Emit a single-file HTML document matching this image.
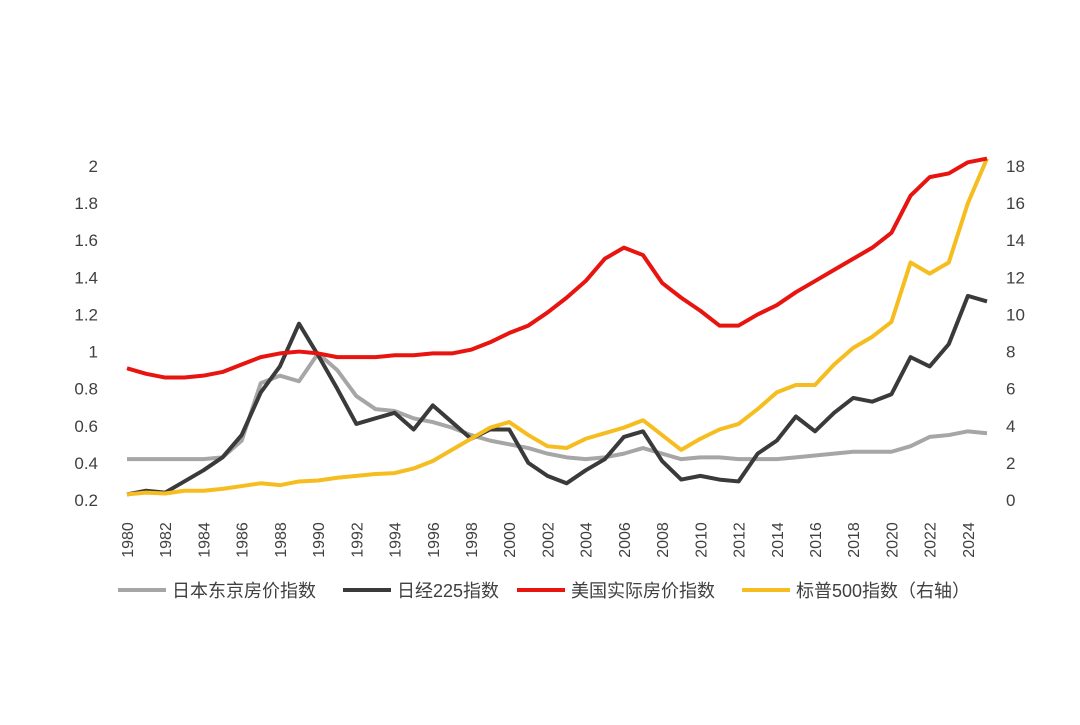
<!DOCTYPE html>
<html><head><meta charset="utf-8">
<style>
body{margin:0;background:#fff;}
svg text{font-family:"Liberation Sans","Noto Sans CJK SC",sans-serif;fill:#404040;}
</style></head>
<body>
<svg id="chart" width="1080" height="720" xmlns="http://www.w3.org/2000/svg">
<g id="axes"></g><g id="series"></g><g id="legend"></g>
</svg>
<script>
const years=[];for(let y=1980;y<=2025;y++)years.push(y);
const tokyo=[0.42,0.42,0.42,0.42,0.42,0.43,0.52,0.83,0.87,0.84,0.99,0.90,0.76,0.69,0.68,0.64,0.62,0.59,0.55,0.52,0.50,0.48,0.45,0.43,0.42,0.43,0.45,0.48,0.45,0.42,0.43,0.43,0.42,0.42,0.42,0.43,0.44,0.45,0.46,0.46,0.46,0.49,0.54,0.55,0.57,0.56];
const nikkei=[0.23,0.25,0.24,0.30,0.36,0.43,0.55,0.78,0.92,1.15,0.98,0.80,0.61,0.64,0.67,0.58,0.71,0.62,0.53,0.58,0.58,0.40,0.33,0.29,0.36,0.42,0.54,0.57,0.41,0.31,0.33,0.31,0.30,0.45,0.52,0.65,0.57,0.67,0.75,0.73,0.77,0.97,0.92,1.04,1.30,1.27];
const usHouse=[0.91,0.88,0.86,0.86,0.87,0.89,0.93,0.97,0.99,1.00,0.99,0.97,0.97,0.97,0.98,0.98,0.99,0.99,1.01,1.05,1.10,1.14,1.21,1.29,1.38,1.50,1.56,1.52,1.37,1.29,1.22,1.14,1.14,1.20,1.25,1.32,1.38,1.44,1.50,1.56,1.64,1.84,1.94,1.96,2.02,2.04];
const sp500=[0.3,0.4,0.35,0.5,0.5,0.6,0.75,0.9,0.8,1.0,1.05,1.2,1.3,1.4,1.45,1.7,2.1,2.7,3.3,3.9,4.2,3.5,2.9,2.8,3.3,3.6,3.9,4.3,3.5,2.7,3.3,3.8,4.1,4.9,5.8,6.2,6.2,7.3,8.2,8.8,9.6,12.8,12.2,12.8,16.0,18.4];
const leftTicks=["0.2","0.4","0.6","0.8","1","1.2","1.4","1.6","1.8","2"];
const rightTicks=["0","2","4","6","8","10","12","14","16","18"];
const NS="http://www.w3.org/2000/svg";
const xS=y=>127+(y-1980)*(860/45);
const yL=v=>500-(v-0.2)*(334/1.8);
const yR=v=>500-v*(334/18);
function mk(t,a,p){const e=document.createElementNS(NS,t);for(const k in a)e.setAttribute(k,a[k]);p.appendChild(e);return e;}
const axes=document.getElementById('axes');
leftTicks.forEach(t=>{const e=mk('text',{x:98,y:yL(+t)+6,'text-anchor':'end','font-size':17},axes);e.textContent=t;

});
rightTicks.forEach(t=>{const e=mk('text',{x:1006,y:yR(+t)+6,'text-anchor':'start','font-size':17},axes);e.textContent=t;

});
years.filter(y=>y%2==0).forEach(y=>{const x=xS(y)+6;const e=mk('text',{x:x,y:540,'text-anchor':'middle','font-size':16,transform:`rotate(-90 ${x} 540)`,'dominant-baseline':'auto'},axes);e.textContent=y;

});
const ser=document.getElementById('series');
function line(data,sc,col,name){const p=mk('polyline',{points:data.map((v,i)=>xS(years[i])+','+sc(v)).join(' '),fill:'none',stroke:col,'stroke-width':4,'stroke-linejoin':'round'},ser);

}
line(tokyo,yL,'#a6a6a6','tokyo-house-line');
line(nikkei,yL,'#3a3a3a','nikkei-line');
line(sp500,yR,'#f5bd1f','sp500-line');
line(usHouse,yL,'#e8140f','us-house-line');
const leg=document.getElementById('legend');
const items=[['日本东京房价指数','#a6a6a6',118],['日经225指数','#3a3a3a',343],['美国实际房价指数','#e8140f',517],['标普500指数（右轴）','#f5bd1f',742]];
items.forEach(([t,c,x])=>{const g=mk('g',{},leg);


mk('line',{x1:x,y1:590,x2:x+48,y2:590,stroke:c,'stroke-width':4},g);
const e=mk('text',{x:x+54,y:597,'font-size':18},g);e.textContent=t;});
</script>
</body></html>
